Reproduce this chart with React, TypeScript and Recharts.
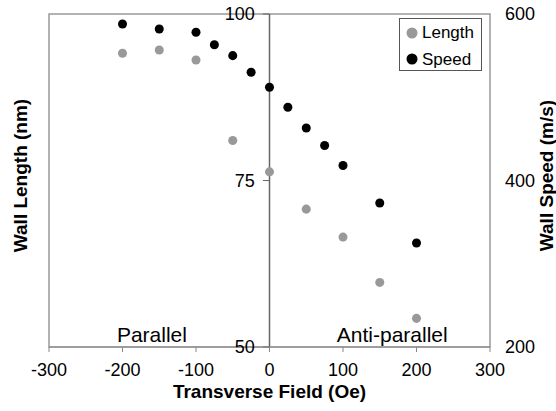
import React from 'react';
import {
  ScatterChart,
  Scatter,
  XAxis,
  YAxis,
  ZAxis,
  Legend,
  ReferenceLine,
  ReferenceArea,
  ReferenceDot,
} from 'recharts';

// transverse field (Oe) and wall length (nm)
const lengthField = [-200, -150, -100, -50, 0, 50, 100, 150, 200];
const lengthValues = [94.1, 94.6, 93.1, 81.0, 76.3, 70.7, 66.5, 59.7, 54.3];

// transverse field (Oe) and wall speed (m/s)
const speedField = [-200, -150, -100, -75, -50, -25, 0, 25, 50, 75, 100, 150, 200];
const speedValues = [588, 582, 578, 563, 550, 530, 512, 488, 463, 442, 418, 373, 325];

const xTicks = [-300, -200, -100, 0, 100, 200, 300];
const lengthTicks = [50, 75, 100];
const speedTicks = [200, 400, 600];

const regionLabels = [
  { x: -160, text: 'Parallel' },
  { x: 167, text: 'Anti-parallel' },
];

const lengthData = lengthField.map((x, i) => ({ x, y: lengthValues[i] }));
const speedData = speedField.map((x, i) => ({ x, y: speedValues[i] }));

const LegendBox = ({ payload }: any) => (
  <div
    style={{
      width: 83,
      height: 53,
      boxSizing: 'border-box',
      border: '1px solid #555',
      background: '#fff',
      padding: '0 0 0 6px',
      fontSize: 17,
      lineHeight: '26px',
      color: '#000',
      textAlign: 'left',
    }}
  >
    {(payload || []).map((p: any) => (
      <div key={p.value} style={{ whiteSpace: 'nowrap' }}>
        <svg width={12} height={12} style={{ verticalAlign: 'middle', marginRight: 4 }}>
          <circle cx={6} cy={6} r={5.5} fill={p.color} />
        </svg>
        <span style={{ verticalAlign: 'middle' }}>{p.value}</span>
      </div>
    ))}
  </div>
);

const App: React.FC = () => {
  return (
    <div
      style={{
        position: 'absolute',
        left: 0,
        top: 0,
        fontFamily: '"Liberation Sans", Arial, sans-serif',
      }}
    >
      <ScatterChart width={556} height={411} margin={{ top: 14, right: 0, bottom: 0, left: 0 }}>
        <XAxis
          type="number"
          dataKey="x"
          domain={[-300, 300]}
          ticks={xTicks}
          height={64}
          stroke="#888"
          tickSize={5}
          tickMargin={11}
          tick={{ fill: '#000', fontSize: 18 }}
          label={{
            value: 'Transverse Field (Oe)',
            position: 'insideBottom',
            offset: 13,
            fill: '#000',
            fontSize: 19,
            fontWeight: 'bold',
          }}
        />
        <YAxis
          yAxisId="len"
          type="number"
          dataKey="y"
          domain={[50, 100]}
          width={49}
          tick={false}
          tickLine={false}
          axisLine={false}
          label={{
            value: 'Wall Length (nm)',
            angle: -90,
            position: 'center',
            dx: -4,
            dy: -5,
            fill: '#000',
            fontSize: 19,
            fontWeight: 'bold',
          }}
        />
        <YAxis
          yAxisId="speed"
          orientation="right"
          type="number"
          dataKey="y"
          domain={[200, 600]}
          ticks={speedTicks}
          width={66}
          tickLine={false}
          axisLine={false}
          tickSize={0}
          tickMargin={15}
          tick={{ fill: '#000', fontSize: 18 }}
          label={{
            value: 'Wall Speed (m/s)',
            angle: -90,
            position: 'center',
            dx: 23,
            dy: -5,
            fill: '#000',
            fontSize: 19,
            fontWeight: 'bold',
          }}
        />
        <ZAxis range={[85, 85]} />

        <ReferenceArea
          yAxisId="len"
          x1={-300}
          x2={300}
          y1={50}
          y2={100}
          fill="none"
          stroke="#999"
          strokeWidth={1.5}
          fillOpacity={0}
        />
        <ReferenceLine yAxisId="len" x={0} stroke="#666" strokeWidth={1.5} />
        {lengthTicks.map((v) => (
          <ReferenceLine
            key={v}
            yAxisId="len"
            segment={[
              { x: -9, y: v },
              { x: 0, y: v },
            ]}
            stroke="#666"
            label={{ value: String(v), position: 'left', offset: 8, fill: '#000', fontSize: 18 }}
          />
        ))}
        {regionLabels.map((r) => (
          <ReferenceDot
            key={r.text}
            yAxisId="len"
            x={r.x}
            y={50}
            r={0}
            fill="none"
            stroke="none"
            label={{ value: r.text, position: 'top', offset: 5, fill: '#000', fontSize: 21 }}
          />
        ))}

        <Scatter
          name="Length"
          yAxisId="len"
          data={lengthData}
          fill="#999999"
          isAnimationActive={false}
        />
        <Scatter
          name="Speed"
          yAxisId="speed"
          data={speedData}
          fill="#000000"
          isAnimationActive={false}
        />

        <Legend
          layout="vertical"
          align="center"
          verticalAlign="middle"
          content={<LegendBox />}
          wrapperStyle={{ position: 'absolute', top: 18, left: 399, width: 83, height: 53 }}
        />
      </ScatterChart>
    </div>
  );
};

export default App;
